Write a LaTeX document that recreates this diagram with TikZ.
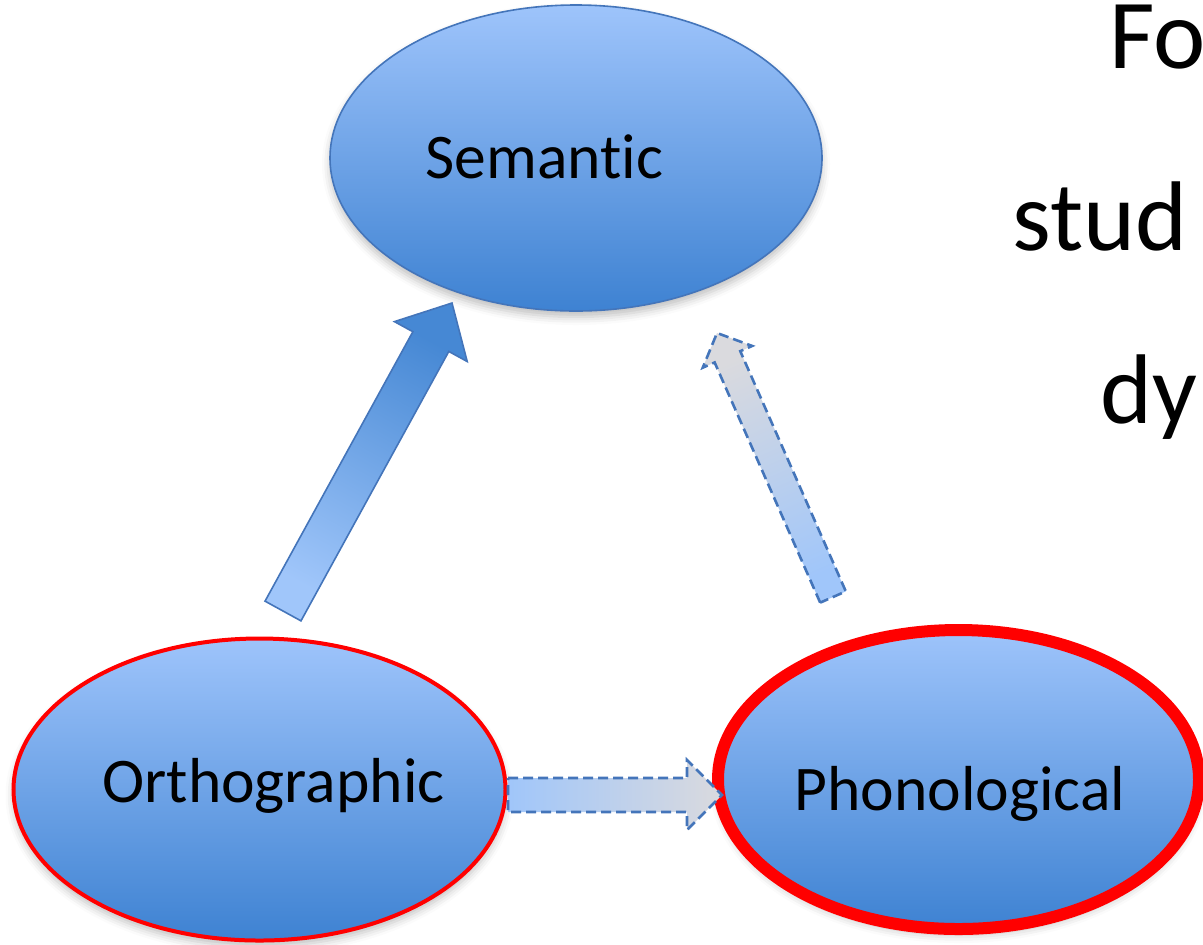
\documentclass[tikz,border=0pt]{standalone}
\usepackage{fontspec}
\setmainfont{Carlito}[Ligatures={NoCommon,NoRare,NoDiscretionary}]
\usetikzlibrary{shapes.geometric,calc,shadows.blur}

\definecolor{fillTop}{RGB}{158,196,251}
\definecolor{fillBot}{RGB}{62,130,210}
\definecolor{edgeBlue}{RGB}{68,117,186}
\definecolor{arrowGray}{RGB}{218,218,222}
\definecolor{arrowLight}{RGB}{160,198,250}
\definecolor{arrowDark}{RGB}{70,136,212}

% Block arrow from #1 (tail) to #2 (tip):
% #3 shaft half width, #4 head half width, #5 head length, #6 path style
\newcommand\blockarrow[6]{%
  \coordinate (ba-base) at ($(#2)!#5!(#1)$);
  \path[#6]
    ($(#1)!#3!90:(#2)$) -- ($(ba-base)!#3!90:(#2)$) -- ($(ba-base)!#4!90:(#2)$)
    -- (#2)
    -- ($(ba-base)!#4!-90:(#2)$) -- ($(ba-base)!#3!-90:(#2)$) -- ($(#1)!#3!-90:(#2)$)
    -- cycle;}

\tikzset{
  bubble/.style={ellipse, inner sep=0pt, top color=fillTop, bottom color=fillBot,
    blur shadow={shadow xshift=0pt, shadow yshift=-3pt, shadow blur radius=4pt, shadow opacity=25}},
  bubbletext/.style={anchor=base west, inner sep=0pt, font=\fontsize{31.8pt}{38pt}\selectfont},
  sidetext/.style={anchor=base west, inner sep=0pt, font=\fontsize{49.5pt}{60pt}\selectfont},
  solidarrow/.style={draw=edgeBlue, line width=0.8pt, line join=miter},
  dasharrow/.style={draw=edgeBlue, line width=1.3pt, line join=miter, dash pattern=on 5pt off 2.5pt},
}

\begin{document}
\begin{tikzpicture}[x=0.5pt, y=-0.5pt]
  \useasboundingbox (0,0) rectangle (1203,944);
  \clip (0,0) rectangle (1203,944);

  % the three representations
  \node[bubble, draw=edgeBlue, line width=0.8pt, minimum width=246pt, minimum height=153pt]
    (sem) at (576,158) {};
  \node[bubble, draw=red, line width=2pt, minimum width=246pt, minimum height=151pt]
    (orth) at (259.5,789.5) {};
  \node[bubble, draw=red, line width=6pt, minimum width=240.5pt, minimum height=149.5pt]
    (phon) at (958.5,779.5) {};

  % the kern keeps "t" and "i" as separate glyphs
  \node[bubbletext] (sem-label) at (425,178) {Semant\kern0pt ic};
  \node[bubbletext] (orth-label) at (102,802) {Orthographic};
  \node[bubbletext] (phon-label) at (794,810) {Phonological};

  % text running off the right edge
  \node[sidetext] (side-1) at (1109,68) {Fo};
  \node[sidetext] (side-2) at (1012,250) {stud};
  \node[sidetext] (side-3) at (1100,423) {dy};

  % pathways between the representations
  \coordinate (os-tail) at (283,611);
  \coordinate (os-tip)  at (452,303);
  \blockarrow{os-tail}{os-tip}{10.25pt}{20.75pt}{22pt}
    {solidarrow, top color=arrowDark, bottom color=arrowLight, shading angle=-28.75}

  \coordinate (ps-tail) at (833,597);
  \coordinate (ps-tip)  at (717,333);
  \blockarrow{ps-tail}{ps-tip}{7pt}{13.5pt}{13pt}
    {dasharrow, top color=arrowGray, bottom color=arrowLight, shading angle=23.7}

  \coordinate (op-tail) at (508,795);
  \coordinate (op-tip)  at (722,795);
  \blockarrow{op-tail}{op-tip}{8.5pt}{17.5pt}{17.5pt}
    {dasharrow, left color=arrowLight, right color=arrowGray}
\end{tikzpicture}
\end{document}
